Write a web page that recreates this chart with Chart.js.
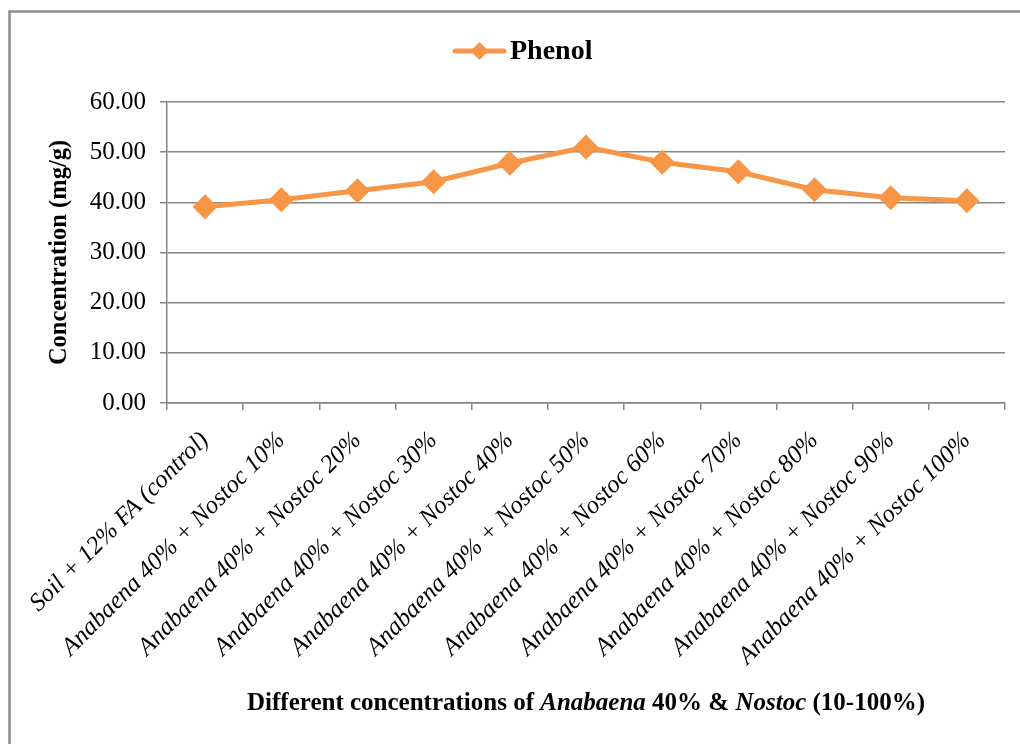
<!DOCTYPE html>
<html>
<head>
<meta charset="utf-8">
<script src="https://cdn.jsdelivr.net/npm/chart.js@4.4.1/dist/chart.umd.min.js"></script>
<style>
    html, body { margin: 0; padding: 0; background: #fff; }
    #wrap { width: 1020px; height: 744px; }
</style>
</head>
<body>
<div id="wrap"><canvas id="phenolChart" width="1020" height="744"></canvas></div>
<script>
// Phenol content per treatment
const treatments = [
    "Soil + 12% FA (control)",
    "Anabaena 40% + Nostoc 10%",
    "Anabaena 40% + Nostoc 20%",
    "Anabaena 40% + Nostoc 30%",
    "Anabaena 40% + Nostoc 40%",
    "Anabaena 40% + Nostoc 50%",
    "Anabaena 40% + Nostoc 60%",
    "Anabaena 40% + Nostoc 70%",
    "Anabaena 40% + Nostoc 80%",
    "Anabaena 40% + Nostoc 90%",
    "Anabaena 40% + Nostoc 100%"
];
const phenol = [39.1, 40.5, 42.3, 44.1, 47.8, 51.0, 48.0, 46.1, 42.5, 40.9, 40.3];
const yTicks = [0, 10, 20, 30, 40, 50, 60];

const SERIF = "'Liberation Serif', 'Times New Roman', serif";
const ORANGE = "#F79646";
const GRID = "#868686";

// Frame, legend and the mixed-style x title are drawn by hand
const extras = {
    id: "extras",
    afterDraw(chart) {
        const ctx = chart.ctx;
        ctx.save();

        // outer frame (only left/top edges fall inside the canvas)
        ctx.strokeStyle = "#8c8c8c";
        ctx.lineWidth = 2.5;
        ctx.beginPath();
        ctx.moveTo(9.5, 744);
        ctx.lineTo(9.5, 11.5);
        ctx.lineTo(1020, 11.5);
        ctx.stroke();

        // legend
        ctx.strokeStyle = ORANGE;
        ctx.fillStyle = ORANGE;
        ctx.lineWidth = 5;
        ctx.lineCap = "round";
        ctx.beginPath();
        ctx.moveTo(455, 51);
        ctx.lineTo(504, 51);
        ctx.stroke();
        ctx.beginPath();
        ctx.moveTo(479.5, 42);
        ctx.lineTo(488.5, 51);
        ctx.lineTo(479.5, 60);
        ctx.lineTo(470.5, 51);
        ctx.closePath();
        ctx.fill();
        ctx.fillStyle = "#000";
        ctx.font = "bold 28px " + SERIF;
        ctx.textBaseline = "middle";
        ctx.textAlign = "left";
        ctx.fillText("Phenol", 510, 52);

        // x axis title
        const parts = [
            ["Different concentrations of ", "bold"],
            ["Anabaena", "italic bold"],
            [" 40% & ", "bold"],
            ["Nostoc", "italic bold"],
            [" (10-100%)", "bold"]
        ];
        let total = 0;
        parts.forEach(p => {
            ctx.font = p[1] + " 25px " + SERIF;
            total += ctx.measureText(p[0]).width;
        });
        const area = chart.chartArea;
        let x = (area.left + area.right) / 2 - total / 2;
        parts.forEach(p => {
            ctx.font = p[1] + " 25px " + SERIF;
            ctx.fillText(p[0], x, 704);
            x += ctx.measureText(p[0]).width;
        });

        ctx.restore();
    }
};

new Chart(document.getElementById("phenolChart"), {
    type: "line",
    data: {
        labels: treatments,
        datasets: [{
            label: "Phenol",
            data: phenol,
            borderColor: ORANGE,
            backgroundColor: ORANGE,
            borderWidth: 5,
            pointStyle: "rectRot",
            pointRadius: 9,
            pointHoverRadius: 9,
            tension: 0
        }]
    },
    options: {
        responsive: false,
        animation: false,
        layout: { padding: { left: 0, top: 102, right: 15, bottom: 0 } },
        plugins: {
            legend: { display: false },
            tooltip: { enabled: false }
        },
        scales: {
            x: {
                offset: true,
                grid: {
                    offset: true,
                    drawOnChartArea: false,
                    tickLength: 7,
                    color: GRID,
                    lineWidth: 1.5
                },
                border: { color: GRID, width: 1.5 },
                ticks: {
                    minRotation: 45,
                    maxRotation: 45,
                    padding: 16,
                    color: "#000",
                    font: { family: SERIF, size: 25, style: "italic" }
                },
                afterFit: s => { s.height = 744 - 403; }
            },
            y: {
                min: yTicks[0],
                max: yTicks[yTicks.length - 1],
                afterBuildTicks: s => { s.ticks = yTicks.map(v => ({ value: v })); },
                grid: { color: GRID, lineWidth: 1.5, tickLength: 7 },
                border: { color: GRID, width: 1.5 },
                ticks: {
                    padding: 14,
                    color: "#000",
                    font: { family: SERIF, size: 25 },
                    callback: v => Number(v).toFixed(2)
                },
                title: {
                    display: true,
                    text: "Concentration (mg/g)",
                    color: "#000",
                    font: { family: SERIF, size: 24.5, weight: "bold" },
                    padding: { top: 45, bottom: 0 }
                },
                afterFit: s => { s.width = 167; }
            }
        }
    },
    plugins: [extras]
});
</script>
</body>
</html>
